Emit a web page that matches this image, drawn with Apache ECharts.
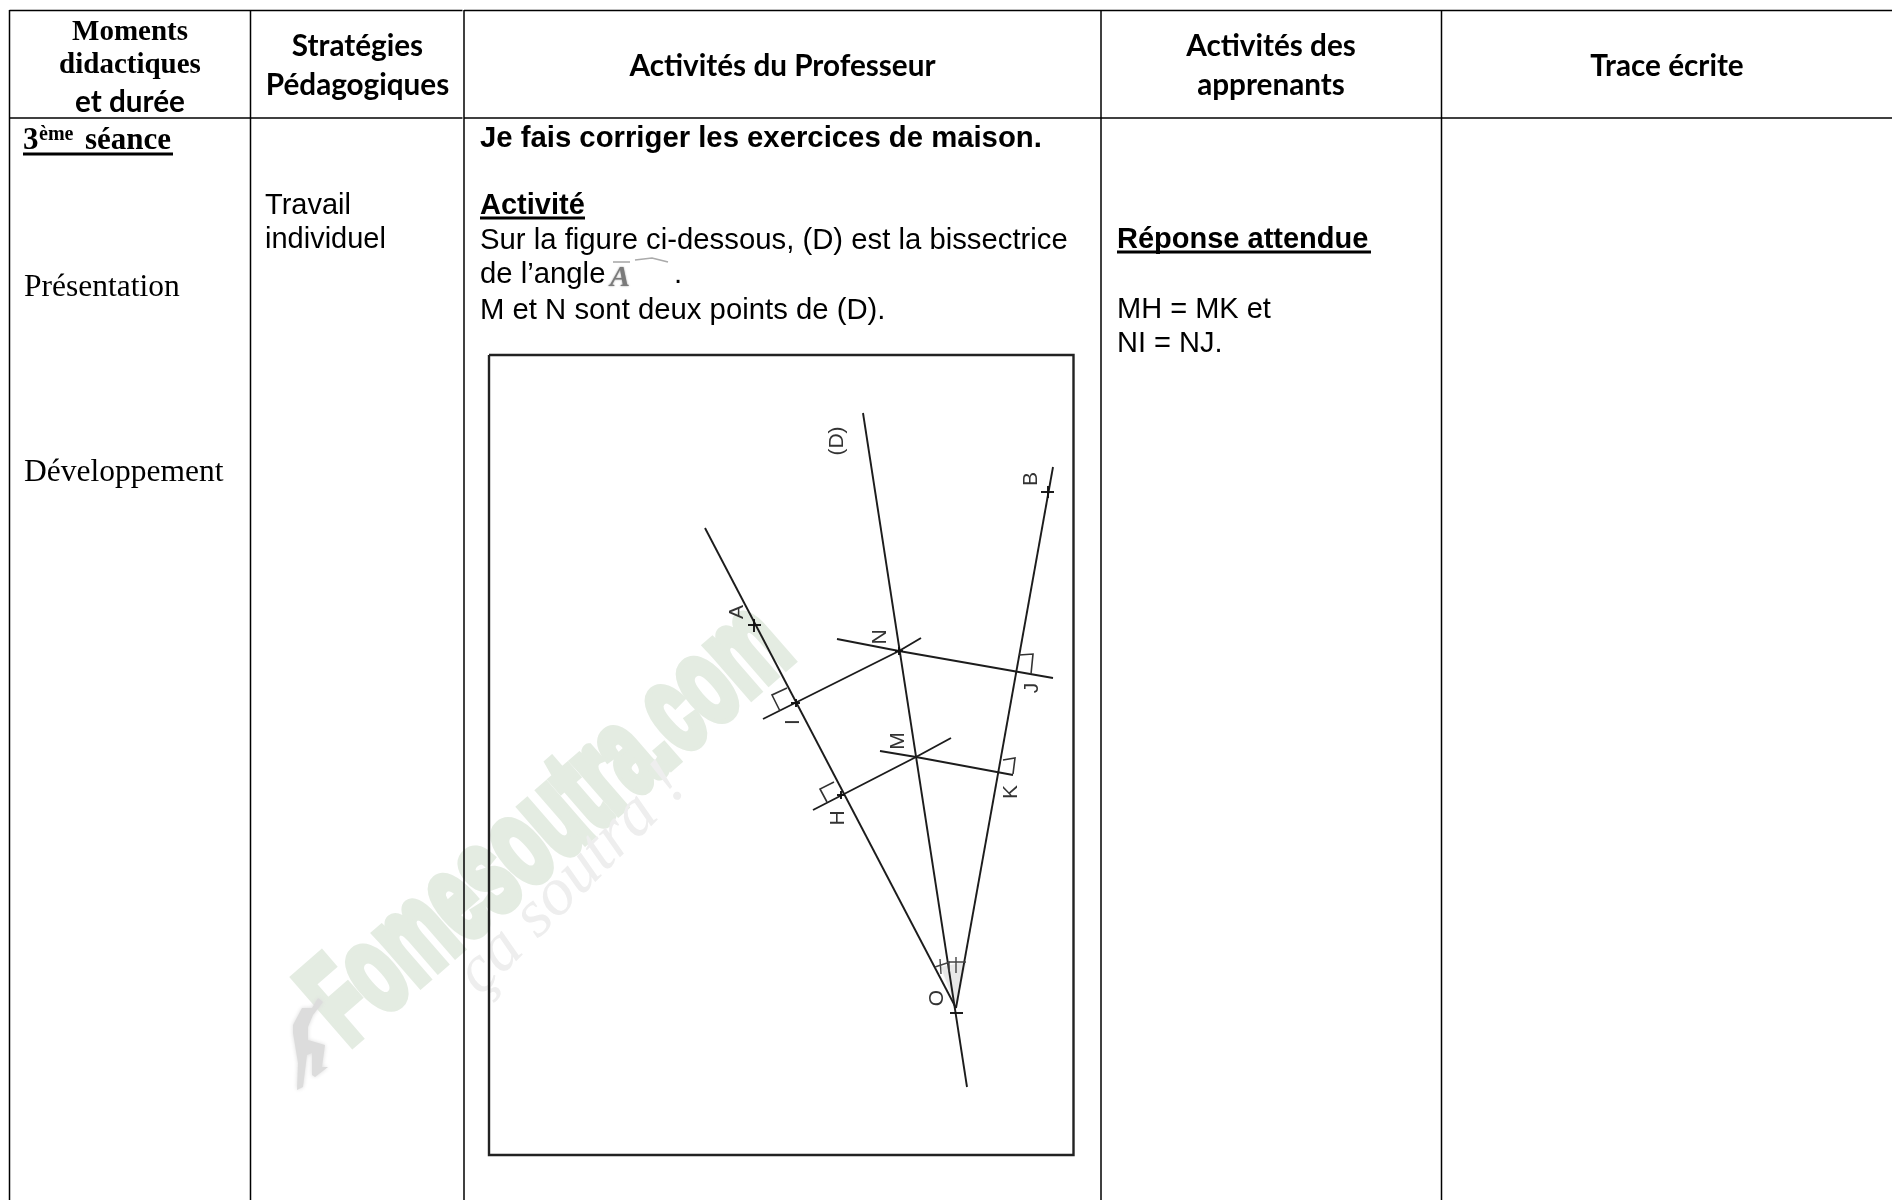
<!DOCTYPE html>
<html>
<head>
<meta charset="utf-8">
<title>3ème séance</title>
<style>
  html, body { margin: 0; padding: 0; background: #fff; }
  #main { width: 1892px; height: 1200px; }
</style>
<script src="https://cdn.jsdelivr.net/npm/echarts@6/dist/echarts.min.js"></script>
</head>
<body>
<div id="main"></div>
<script>
// table rules, in page units of the hidden axes
const tableRules = [
  [[9.5, 10.5], [462.5, 10.5]],
  [[464, 10.5], [1892, 10.5]],
  [[9.5, 118], [462.5, 118]],
  [[464, 118], [1892, 118]],
  [[9.5, 10], [9.5, 1200]],
  [[250.5, 10], [250.5, 1200]],
  [[464, 10], [464, 1200]],
  [[1101, 10], [1101, 1200]],
  [[1441.5, 10], [1441.5, 1200]]
];

const figureFrame = [[[489, 355], [1073.5, 355], [1073.5, 1155], [489, 1155], [489, 355]]];

// geometry figure
const figureLines = [
  [[863, 413], [967, 1087]],          // (D)
  [[705, 528], [956, 1008]],          // OA
  [[1053, 467], [956, 1008]],         // OB
  [[763, 719], [899, 651], [921, 638]],   // I-N
  [[837, 639], [899, 651], [1053, 678]],  // N-J
  [[813, 810], [916, 757], [951, 738]],   // H-M
  [[880, 751], [916, 757], [1013, 775]]   // M-K
];
const rightAngles = [
  [[780, 711], [772, 695], [787, 688]],
  [[827, 802], [820, 789], [834, 782]],
  [[1019, 655], [1033, 654], [1031, 674]],
  [[1003, 760], [1015, 758], [1013, 774]]
];
const pointCrosses = [
  [[748, 625], [761, 625]], [[754, 619], [754, 632]],
  [[1041, 492], [1054, 492]], [[1048, 486], [1048, 498]],
  [[950, 1013], [963, 1013]],
  [[895, 651], [903, 651]], [[899, 647], [899, 655]],
  [[791, 703], [800, 703]], [[796, 699], [796, 707]],
  [[837, 795], [845, 795]], [[841, 791], [841, 799]]
];
const angleMarks = [
  [[935, 967], [950, 962], [966, 962]],
  [[940, 959], [941, 974]],
  [[949, 961], [949, 972]],
  [[956, 957], [956, 973]]
];
const angleShade = [[941, 967], [966, 962], [956, 1006]];

const pointLabels = ["(D)", "A", "B", "N", "J", "I", "M", "H", "K", "O"];
const pointLabelAnchors = [
  [837, 441], [737, 612], [1031, 479], [880, 637], [1032, 688],
  [793, 722], [898, 741], [838, 818], [1011, 792], [937, 998]
];

// page text, anchors are baselines
const serifBoldLabels = ["Moments", "didactiques"];
const serifBoldAnchors = [[130, 39], [130, 72]];
const serifLabels = ["Présentation", "Développement"];
const serifAnchors = [[24, 295], [24, 480]];
const headLabels = ["et durée", "Stratégies", "Pédagogiques", "Activités du Professeur", "Activités des", "apprenants", "Trace écrite"];
const headAnchors = [[130, 110], [357.5, 54], [357.5, 93], [782.5, 74], [1271, 54], [1271, 93], [1667, 74]];
const workLabels = ["Travail", "individuel", "MH = MK et", "NI = NJ."];
const workAnchors = [[265, 213], [265, 247], [1117, 317], [1117, 351]];
const activityLabels = ["Sur la figure ci-dessous, (D) est la bissectrice", "de l’angle", ".", "M et N sont deux points de (D)."];
const activityAnchors = [[480, 248], [480, 282], [674, 282], [480, 318]];
const bodyBoldLabels = ["Activité", "Réponse attendue"];
const bodyBoldAnchors = [[480, 213], [1117, 247]];
const underlines = [
  [[23, 154], [173, 154]],
  [[480, 218], [585, 218]],
  [[1117, 252], [1371, 252]]
];

// the watermark
const climber = [
  [318, 998], [323, 1002], [313, 1015], [308, 1027], [308, 1040], [325, 1045], [322, 1067],
  [328, 1067], [315, 1077], [312, 1075], [312, 1053], [307, 1055], [303, 1087], [297, 1090],
  [298, 1063], [293, 1033], [293, 1025], [302, 1008], [312, 1008]
];

function textSeries(labels, anchors, font, align) {
  const size = font.fontSize;
  return {
    type: "scatter",
    silent: true,
    symbolSize: 0,
    z: font.z || 5,
    itemStyle: { opacity: 1 },
    data: labels.map((name, i) => ({
      name,
      value: font.centered ? anchors[i] : [anchors[i][0], anchors[i][1] - size * 0.24]
    })),
    label: {
      show: true,
      position: "inside",
      formatter: "{b}",
      align: align || "left",
      verticalAlign: "middle",
      color: font.color || "#000",
      fontFamily: font.fontFamily,
      fontSize: size,
      fontWeight: font.fontWeight || "normal",
      fontStyle: font.fontStyle || "normal",
      rotate: font.rotate || 0,
      textShadowColor: font.shadowColor,
      textShadowBlur: font.shadowBlur || 0
    }
  };
}

function lineSeries(segments, color, width, z) {
  return {
    type: "lines",
    coordinateSystem: "cartesian2d",
    polyline: true,
    silent: true,
    z: z || 3,
    lineStyle: { color, width, opacity: 1, cap: "butt" },
    data: segments.map((coords) => ({ coords }))
  };
}

function polygonSeries(points, color, blur, z) {
  return {
    type: "custom",
    silent: true,
    z: z || 1,
    data: [0],
    renderItem(params, api) {
      return {
        type: "polygon",
        shape: { points: points.map((p) => api.coord(p)) },
        style: { fill: color, shadowColor: color, shadowBlur: blur }
      };
    }
  };
}

// squeezed fat lettering of the watermark, a label can not be scaled
function watermarkSeries(text, anchor, degrees, squeeze) {
  return {
    type: "custom",
    silent: true,
    z: 1,
    data: [0],
    renderItem(params, api) {
      const [x, y] = api.coord(anchor);
      return {
        type: "text",
        x,
        y,
        rotation: (degrees * Math.PI) / 180,
        scaleX: squeeze,
        style: {
          text,
          fontFamily: "Liberation Sans",
          fontWeight: "bold",
          fontSize: 125,
          align: "center",
          verticalAlign: "middle",
          fill: "#e4ece2",
          stroke: "#e4ece2",
          lineWidth: 10,
          shadowColor: "#e4ece2",
          shadowBlur: 10
        }
      };
    }
  };
}

const chart = echarts.init(document.querySelector("#main"));

chart.setOption({
  animation: false,
  backgroundColor: "#fff",
  grid: { left: 0, right: 0, top: 0, bottom: 0 },
  xAxis: { type: "value", min: 0, max: 1892, show: false },
  yAxis: { type: "value", min: 0, max: 1200, inverse: true, show: false },
  series: [
    // watermark underneath everything
    watermarkSeries("Fomesoutra.com", [549, 826], 41, 0.59),
    textSeries(["ça soutra !"], [[572, 880]], {
      centered: true, fontFamily: "Liberation Serif", fontStyle: "italic", fontSize: 68, rotate: 45,
      color: "#eeeeee", z: 1
    }, "center"),
    polygonSeries(climber, "#dcdcdc", 4, 1),
    polygonSeries(angleShade, "#e8e8e8", 2, 1),

    lineSeries(tableRules, "#000", 1.5, 3),
    lineSeries(figureFrame, "#222", 2.4, 3),
    lineSeries(figureLines, "#1c1c1c", 1.9, 3),
    lineSeries(rightAngles, "#333", 1.6, 3),
    lineSeries(pointCrosses, "#111", 1.9, 3),
    lineSeries(angleMarks, "#444", 1.4, 3),
    lineSeries(underlines, "#000", 2.8, 3),

    // A with its hat, blurred in the source
    textSeries(["A"], [[620, 285]], {
      fontFamily: "Liberation Serif", fontStyle: "italic", fontWeight: "bold", fontSize: 30,
      color: "#7a7a7a", shadowColor: "#999", shadowBlur: 2
    }, "center"),
    lineSeries([[[613, 262], [630, 262]], [[635, 260], [652, 258], [668, 262]]], "#aaa", 1.6, 3),

    textSeries(serifBoldLabels, serifBoldAnchors, { fontFamily: "Liberation Serif", fontWeight: "bold", fontSize: 29 }, "center"),
    textSeries(["3", "séance"], [[23, 148], [85, 148]], { fontFamily: "Liberation Serif", fontWeight: "bold", fontSize: 31 }),
    textSeries(["ème"], [[39, 140]], { fontFamily: "Liberation Serif", fontWeight: "bold", fontSize: 20 }),
    textSeries(serifLabels, serifAnchors, { fontFamily: "Liberation Serif", fontSize: 31.5 }),
    textSeries(headLabels, headAnchors, { fontFamily: "Lato", fontWeight: "bold", fontSize: 29.7 }, "center"),
    textSeries(workLabels, workAnchors, { fontFamily: "Liberation Sans", fontSize: 29 }),
    textSeries(activityLabels, activityAnchors, { fontFamily: "Liberation Sans", fontSize: 29.3 }),
    textSeries(["Je fais corriger les exercices de maison."], [[480, 146]], { fontFamily: "Liberation Sans", fontWeight: "bold", fontSize: 29.3 }),
    textSeries(bodyBoldLabels, bodyBoldAnchors, { fontFamily: "Liberation Sans", fontWeight: "bold", fontSize: 29 }),
    textSeries(pointLabels, pointLabelAnchors, { centered: true, fontFamily: "Liberation Sans", fontSize: 21, rotate: 90, color: "#333" }, "center")
  ]
});

window.addEventListener("resize", () => chart.resize());
</script>
</body>
</html>
